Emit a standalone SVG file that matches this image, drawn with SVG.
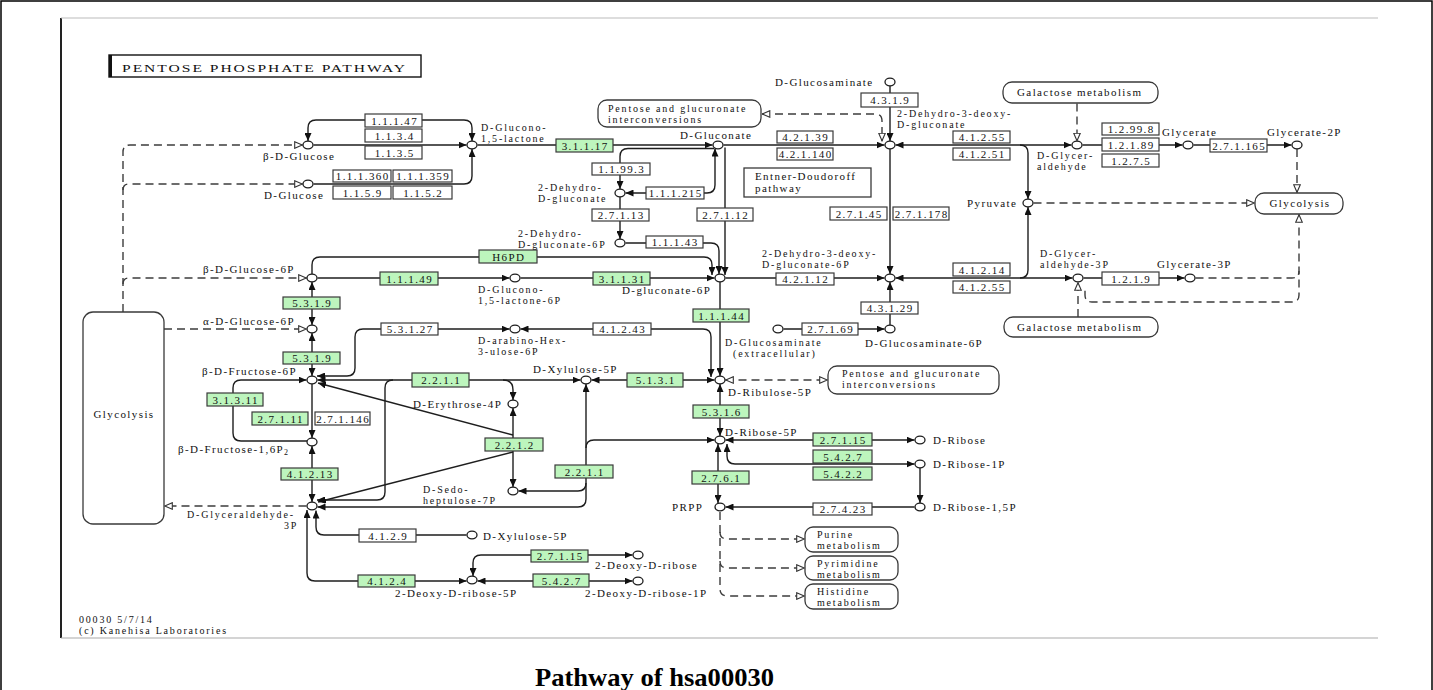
<svg xmlns="http://www.w3.org/2000/svg" width="1433" height="690" viewBox="0 0 1433 690">
<style>
.ln{fill:none;stroke:#1e1e1e;stroke-width:1.4}
.ds{fill:none;stroke:#3c3c3c;stroke-width:1.4;stroke-dasharray:8 5}
.cp{fill:#fff;stroke:#1e1e1e;stroke-width:1.3}
.ez{fill:#fff;stroke:#3a3a3a;stroke-width:1.2}
.gz{fill:#bdf5bd;stroke:#3a3a3a;stroke-width:1.2}
.mp{fill:#fff;stroke:#3a3a3a;stroke-width:1.3}
text{font-family:"Liberation Serif","Times New Roman",serif;font-size:11px;letter-spacing:1.4px;fill:#111}
.ml{font-size:10px;letter-spacing:1.8px}
.m{text-anchor:middle}
.cap{font-size:25px;font-weight:bold;letter-spacing:0;fill:#000}
</style>
<defs>
<marker id="fa" viewBox="0 0 8 7" refX="8" refY="3.5" markerWidth="8" markerHeight="7" markerUnits="userSpaceOnUse" orient="auto-start-reverse"><path d="M0,0 L8,3.5 L0,7 z" fill="#111"/></marker>
<marker id="oa" viewBox="0 0 9 8" refX="8.5" refY="4" markerWidth="9" markerHeight="8" markerUnits="userSpaceOnUse" orient="auto-start-reverse"><path d="M0.7,0.7 L8.3,4 L0.7,7.3 z" fill="#fff" stroke="#333" stroke-width="1.1"/></marker>
</defs>
<rect width="1433" height="690" fill="#fff"/>
<g id="frame" fill="none">
<path d="M1,690 V1 H1432 V690" stroke="#000" stroke-width="1.5"/>
<path d="M61,18 V638" stroke="#222" stroke-width="2"/>
<path d="M61,18 H1378" stroke="#bbb" stroke-width="1"/>
<path d="M61,638 H1378" stroke="#aaa" stroke-width="1.2"/>
</g>
<g id="title">
<rect x="109" y="55" width="312" height="22" fill="#fff" stroke="#111" stroke-width="1.4"/>
<path d="M110.5,55 V77" stroke="#111" stroke-width="3"/>
<text x="122" y="72" font-size="12" letter-spacing="1" textLength="285" lengthAdjust="spacingAndGlyphs">PENTOSE PHOSPHATE PATHWAY</text>
</g>
<g id="connectors">
<path class="ln" d="M308,141 V128 Q308,120 316,120 H464 Q472,120 472,128 V141" marker-start="url(#fa)" marker-end="url(#fa)"/>
<path class="ln" d="M313.5,145 H466.5" marker-end="url(#fa)"/>
<path class="ln" d="M313.5,184 H464 Q472,184 472,176 V149" marker-end="url(#fa)"/>
<path class="ln" d="M477.5,145 H712.5" marker-end="url(#fa)"/>
<path class="ln" d="M714,148.5 H628 Q620,148.5 620,156.5 V189" marker-end="url(#fa)"/>
<path class="ln" d="M625.5,193 H707 Q715,193 715,185 V148.5" marker-start="url(#fa)" marker-end="url(#fa)"/>
<path class="ln" d="M620,197 V239" marker-end="url(#fa)"/>
<path class="ln" d="M625.5,243 H711 Q719,243 719,251 V274" marker-end="url(#fa)"/>
<path class="ln" d="M725,147.5 V275" marker-end="url(#fa)"/>
<path class="ln" d="M312,274 V265 Q312,257 320,257 H704 Q712,257 712,265 V275" marker-end="url(#fa)"/>
<path class="ln" d="M317.5,278 H509.5" marker-end="url(#fa)"/>
<path class="ln" d="M520.5,278 H714.5" marker-end="url(#fa)"/>
<path class="ln" d="M720,282 V376" marker-end="url(#fa)"/>
<path class="ln" d="M520.5,329 H703 Q711,329 711,337 V377" marker-start="url(#fa)" marker-end="url(#fa)"/>
<path class="ln" d="M509.5,329 H363 Q355,329 355,337 V368 Q355,376 347,376 H317" marker-start="url(#fa)" marker-end="url(#fa)"/>
<path class="ln" d="M312,282 V325" marker-start="url(#fa)" marker-end="url(#fa)"/>
<path class="ln" d="M312,333 V376" marker-start="url(#fa)" marker-end="url(#fa)"/>
<path class="ln" d="M312,384 V438" marker-end="url(#fa)"/>
<path class="ln" d="M307,441 H241 Q233,441 233,433 V388 Q233,380 241,380 H306.5" marker-end="url(#fa)"/>
<path class="ln" d="M312,446 V502" marker-start="url(#fa)" marker-end="url(#fa)"/>
<path class="ln" d="M317.5,380 H580.5" marker-start="url(#fa)" marker-end="url(#fa)"/>
<path class="ln" d="M503,380 Q513,380 513,390 V400" marker-end="url(#fa)"/>
<path class="ln" d="M393,380 Q385,380 385,388 V492 Q385,500 377,500 H317" marker-end="url(#fa)"/>
<path class="ln" d="M513,435 L318,383" marker-end="url(#fa)"/>
<path class="ln" d="M513,452 L318,502" marker-end="url(#fa)"/>
<path class="ln" d="M513,408 V487" marker-start="url(#fa)" marker-end="url(#fa)"/>
<path class="ln" d="M591.5,380 H714.5" marker-start="url(#fa)" marker-end="url(#fa)"/>
<path class="ln" d="M317.5,507 H578 Q586,507 586,499 V384" marker-start="url(#fa)" marker-end="url(#fa)"/>
<path class="ln" d="M586,448 Q586,440 594,440 H714.5" marker-end="url(#fa)"/>
<path class="ln" d="M586,483 Q586,491 578,491 H518.5" marker-end="url(#fa)"/>
<path class="ln" d="M720,384 V436" marker-start="url(#fa)" marker-end="url(#fa)"/>
<path class="ln" d="M725.5,440 H914.5" marker-start="url(#fa)" marker-end="url(#fa)"/>
<path class="ln" d="M727,444 V456 Q727,464 735,464 H914.5" marker-start="url(#fa)" marker-end="url(#fa)"/>
<path class="ln" d="M718,444 V503" marker-start="url(#fa)" marker-end="url(#fa)"/>
<path class="ln" d="M920,468 V503" marker-end="url(#fa)"/>
<path class="ln" d="M914.5,507 H725.5" marker-end="url(#fa)"/>
<path class="ln" d="M466.5,535 H324 Q316,535 316,527 V510.5" marker-end="url(#fa)"/>
<path class="ln" d="M466.5,581 H315 Q307,581 307,573 V510" marker-start="url(#fa)" marker-end="url(#fa)"/>
<path class="ln" d="M632.5,555 H481 Q473,555 473,563 V576" marker-start="url(#fa)" marker-end="url(#fa)"/>
<path class="ln" d="M477.5,581 H632.5" marker-start="url(#fa)" marker-end="url(#fa)"/>
<path class="ln" d="M890,86 V141" marker-end="url(#fa)"/>
<path class="ln" d="M723.5,145 H884.5" marker-end="url(#fa)"/>
<path class="ln" d="M895.5,145 H1071.5" marker-start="url(#fa)" marker-end="url(#fa)"/>
<path class="ln" d="M1020,145 Q1028,145 1028,153 V199" marker-end="url(#fa)"/>
<path class="ln" d="M890,149 V274" marker-end="url(#fa)"/>
<path class="ln" d="M725.5,278 H884.5" marker-end="url(#fa)"/>
<path class="ln" d="M895.5,278 H1072.5" marker-start="url(#fa)" marker-end="url(#fa)"/>
<path class="ln" d="M1020,278 Q1028,278 1028,270 V207" marker-end="url(#fa)"/>
<path class="ln" d="M890,325 V282" marker-end="url(#fa)"/>
<path class="ln" d="M783.5,329 H884.5" marker-end="url(#fa)"/>
<path class="ln" d="M1082.5,145 H1182.5" marker-end="url(#fa)"/>
<path class="ln" d="M1193.5,145 H1291.5" marker-end="url(#fa)"/>
<path class="ln" d="M1083.5,278 H1184.5" marker-end="url(#fa)"/>
<path class="ds" d="M123,312 V152 Q123,145 130,145 H302.5" marker-end="url(#oa)"/>
<path class="ds" d="M123,190 Q123,184 129,184 H302.5" marker-end="url(#oa)"/>
<path class="ds" d="M123,284 Q123,278 129,278 H306.5" marker-end="url(#oa)"/>
<path class="ds" d="M164,329 H306.5" marker-end="url(#oa)"/>
<path class="ds" d="M306.5,506 H164.5" marker-end="url(#oa)"/>
<path class="ds" d="M762,114 H875 Q882,114 882,121 V141" marker-start="url(#oa)" marker-end="url(#oa)"/>
<path class="ds" d="M1077,103.5 V141" marker-end="url(#oa)"/>
<path class="ds" d="M1297,149 V192.5" marker-end="url(#oa)"/>
<path class="ds" d="M1033.5,203 H1254.5" marker-end="url(#oa)"/>
<path class="ds" d="M1078,317 V282.5" marker-end="url(#oa)"/>
<path class="ds" d="M1299,214.5 V295 Q1299,302 1292,302 H1092 Q1085,302 1085,295 V287" marker-start="url(#oa)"/>
<path class="ds" d="M1195.5,278 H1292 Q1299,278 1299,271"/>
<path class="ds" d="M725.5,380 H827.5" marker-start="url(#oa)" marker-end="url(#oa)"/>
<path class="ds" d="M720,512 V589 Q720,596 728,596 H804.5" marker-end="url(#oa)"/>
<path class="ds" d="M720,532 Q720,539 727,539 H804.5" marker-end="url(#oa)"/>
<path class="ds" d="M720,561 Q720,568 727,568 H804.5" marker-end="url(#oa)"/>
</g>
<g id="maps">
<g id="m_pentose1"><rect class="mp" x="598" y="100" width="163" height="27" rx="9"/><text class="ml" x="608" y="112">Pentose and glucuronate<tspan x="608" dy="11">interconversions</tspan></text></g>
<g id="m_galactose1"><rect class="mp" x="1003" y="82" width="155" height="21" rx="9"/><text x="1017" y="96">Galactose metabolism</text></g>
<g id="m_glycolysis1"><rect class="mp" x="1255" y="193" width="88" height="21" rx="9"/><text class="m" x="1300" y="207">Glycolysis</text></g>
<g id="m_galactose2"><rect class="mp" x="1004" y="317" width="154" height="20" rx="9"/><text x="1017" y="331">Galactose metabolism</text></g>
<g id="m_pentose2"><rect class="mp" x="828" y="366" width="171" height="28" rx="9"/><text class="ml" x="842" y="377">Pentose and glucuronate<tspan x="842" dy="11">interconversions</tspan></text></g>
<g id="m_glycolysis2"><rect class="mp" x="83" y="312" width="81" height="212" rx="10"/><text class="m" x="124" y="418">Glycolysis</text></g>
<g id="m_purine"><rect class="mp" x="805" y="527" width="93" height="25" rx="8"/><text class="ml" x="817" y="538">Purine<tspan x="817" dy="11">metabolism</tspan></text></g>
<g id="m_pyrimidine"><rect class="mp" x="805" y="556" width="93" height="24" rx="8"/><text class="ml" x="817" y="566.5">Pyrimidine<tspan x="817" dy="11">metabolism</tspan></text></g>
<g id="m_histidine"><rect class="mp" x="805" y="584" width="93" height="25" rx="8"/><text class="ml" x="817" y="595">Histidine<tspan x="817" dy="11">metabolism</tspan></text></g>
<g id="m_entner"><rect class="mp" x="744" y="168" width="127" height="29"/><text x="755" y="180">Entner-Doudoroff<tspan x="755" dy="12">pathway</tspan></text></g>
</g>
<g id="enzymes">
<g id="e1"><rect class="ez" x="365" y="114" width="57" height="13"/><text class="m" x="394.7" y="124.5">1.1.1.47</text></g>
<g id="e2"><rect class="ez" x="365" y="129" width="57" height="13"/><text class="m" x="394.7" y="139.5">1.1.3.4</text></g>
<g id="e3"><rect class="ez" x="365" y="146" width="57" height="13"/><text class="m" x="394.7" y="156.5">1.1.3.5</text></g>
<g id="e4"><rect class="ez" x="333" y="170" width="58" height="12"/><text class="m" x="362.7" y="179.5">1.1.1.360</text></g>
<g id="e5"><rect class="ez" x="393" y="170" width="59" height="12"/><text class="m" x="423.2" y="179.5">1.1.1.359</text></g>
<g id="e6"><rect class="ez" x="333" y="186" width="58" height="13"/><text class="m" x="362.7" y="196.5">1.1.5.9</text></g>
<g id="e7"><rect class="ez" x="393" y="186" width="59" height="13"/><text class="m" x="423.2" y="196.5">1.1.5.2</text></g>
<g id="e8"><rect class="gz" x="556" y="139" width="57" height="13"/><text class="m" x="585.2" y="149.5">3.1.1.17</text></g>
<g id="e9"><rect class="ez" x="592" y="163" width="58" height="12"/><text class="m" x="621.7" y="172.5">1.1.99.3</text></g>
<g id="e10"><rect class="ez" x="646" y="187" width="58" height="12"/><text class="m" x="675.7" y="196.5">1.1.1.215</text></g>
<g id="e11"><rect class="ez" x="592" y="209" width="57" height="12"/><text class="m" x="621.2" y="218.5">2.7.1.13</text></g>
<g id="e12"><rect class="ez" x="697" y="208" width="56" height="13"/><text class="m" x="725.7" y="218.5">2.7.1.12</text></g>
<g id="e13"><rect class="ez" x="646" y="236" width="57" height="12"/><text class="m" x="675.2" y="245.5">1.1.1.43</text></g>
<g id="e14"><rect class="gz" x="479" y="250" width="58" height="13"/><text class="m" x="508.7" y="260.5">H6PD</text></g>
<g id="e15"><rect class="ez" x="861" y="93" width="57" height="14"/><text class="m" x="890.2" y="104">4.3.1.9</text></g>
<g id="e16"><rect class="ez" x="777" y="131" width="56" height="12"/><text class="m" x="805.7" y="140.5">4.2.1.39</text></g>
<g id="e17"><rect class="ez" x="777" y="148" width="56" height="12"/><text class="m" x="805.7" y="157.5">4.2.1.140</text></g>
<g id="e18"><rect class="ez" x="953" y="131" width="57" height="12"/><text class="m" x="982.2" y="140.5">4.1.2.55</text></g>
<g id="e19"><rect class="ez" x="953" y="148" width="57" height="12"/><text class="m" x="982.2" y="157.5">4.1.2.51</text></g>
<g id="e20"><rect class="ez" x="830" y="207" width="57" height="13"/><text class="m" x="859.2" y="217.5">2.7.1.45</text></g>
<g id="e21"><rect class="ez" x="893" y="207" width="56" height="13"/><text class="m" x="921.7" y="217.5">2.7.1.178</text></g>
<g id="e22"><rect class="ez" x="1102" y="123" width="57" height="12"/><text class="m" x="1131.2" y="132.5">1.2.99.8</text></g>
<g id="e23"><rect class="ez" x="1102" y="138" width="57" height="13"/><text class="m" x="1131.2" y="148.5">1.2.1.89</text></g>
<g id="e24"><rect class="ez" x="1102" y="154" width="57" height="13"/><text class="m" x="1131.2" y="164.5">1.2.7.5</text></g>
<g id="e25"><rect class="ez" x="1210" y="139" width="57" height="13"/><text class="m" x="1239.2" y="149.5">2.7.1.165</text></g>
<g id="e26"><rect class="gz" x="380" y="272" width="58" height="13"/><text class="m" x="409.7" y="282.5">1.1.1.49</text></g>
<g id="e27"><rect class="gz" x="593" y="272" width="57" height="13"/><text class="m" x="622.2" y="282.5">3.1.1.31</text></g>
<g id="e28"><rect class="ez" x="776" y="273" width="58" height="12"/><text class="m" x="805.7" y="282.5">4.2.1.12</text></g>
<g id="e29"><rect class="ez" x="953" y="263" width="57" height="13"/><text class="m" x="982.2" y="273.5">4.1.2.14</text></g>
<g id="e30"><rect class="ez" x="953" y="281" width="57" height="12"/><text class="m" x="982.2" y="290.5">4.1.2.55</text></g>
<g id="e31"><rect class="ez" x="1102" y="272" width="57" height="13"/><text class="m" x="1131.2" y="282.5">1.2.1.9</text></g>
<g id="e32"><rect class="gz" x="283" y="297" width="57" height="12"/><text class="m" x="312.2" y="306.5">5.3.1.9</text></g>
<g id="e33"><rect class="gz" x="283" y="352" width="57" height="12"/><text class="m" x="312.2" y="361.5">5.3.1.9</text></g>
<g id="e34"><rect class="gz" x="693" y="309" width="56" height="13"/><text class="m" x="721.7" y="319.5">1.1.1.44</text></g>
<g id="e35"><rect class="ez" x="861" y="302" width="57" height="12"/><text class="m" x="890.2" y="311.5">4.3.1.29</text></g>
<g id="e36"><rect class="ez" x="802" y="323" width="56" height="12"/><text class="m" x="830.7" y="332.5">2.7.1.69</text></g>
<g id="e37"><rect class="ez" x="381" y="323" width="57" height="12"/><text class="m" x="410.2" y="332.5">5.3.1.27</text></g>
<g id="e38"><rect class="ez" x="593" y="323" width="58" height="12"/><text class="m" x="622.7" y="332.5">4.1.2.43</text></g>
<g id="e39"><rect class="gz" x="412" y="373" width="57" height="14"/><text class="m" x="441.2" y="384">2.2.1.1</text></g>
<g id="e40"><rect class="gz" x="627" y="373" width="56" height="14"/><text class="m" x="655.7" y="384">5.1.3.1</text></g>
<g id="e41"><rect class="gz" x="207" y="393" width="56" height="13"/><text class="m" x="235.7" y="403.5">3.1.3.11</text></g>
<g id="e42"><rect class="gz" x="252" y="412" width="56" height="13"/><text class="m" x="280.7" y="422.5">2.7.1.11</text></g>
<g id="e43"><rect class="ez" x="315" y="412" width="55" height="13"/><text class="m" x="343.2" y="422.5">2.7.1.146</text></g>
<g id="e44"><rect class="gz" x="693" y="405" width="56" height="13"/><text class="m" x="721.7" y="415.5">5.3.1.6</text></g>
<g id="e45"><rect class="gz" x="813" y="433" width="59" height="13"/><text class="m" x="843.2" y="443.5">2.7.1.15</text></g>
<g id="e46"><rect class="gz" x="813" y="450" width="59" height="13"/><text class="m" x="843.2" y="460.5">5.4.2.7</text></g>
<g id="e47"><rect class="gz" x="813" y="467" width="59" height="13"/><text class="m" x="843.2" y="477.5">5.4.2.2</text></g>
<g id="e48"><rect class="gz" x="485" y="438" width="58" height="13"/><text class="m" x="514.7" y="448.5">2.2.1.2</text></g>
<g id="e49"><rect class="gz" x="555" y="465" width="58" height="13"/><text class="m" x="584.7" y="475.5">2.2.1.1</text></g>
<g id="e50"><rect class="gz" x="281" y="468" width="57" height="12"/><text class="m" x="310.2" y="477.5">4.1.2.13</text></g>
<g id="e51"><rect class="gz" x="692" y="471" width="57" height="13"/><text class="m" x="721.2" y="481.5">2.7.6.1</text></g>
<g id="e52"><rect class="ez" x="813" y="503" width="59" height="12"/><text class="m" x="843.2" y="512.5">2.7.4.23</text></g>
<g id="e53"><rect class="ez" x="359" y="529" width="57" height="13"/><text class="m" x="388.2" y="539.5">4.1.2.9</text></g>
<g id="e54"><rect class="gz" x="531" y="550" width="57" height="12"/><text class="m" x="560.2" y="559.5">2.7.1.15</text></g>
<g id="e55"><rect class="gz" x="358" y="575" width="57" height="12"/><text class="m" x="387.2" y="584.5">4.1.2.4</text></g>
<g id="e56"><rect class="gz" x="533" y="574" width="56" height="13"/><text class="m" x="561.7" y="584.5">5.4.2.7</text></g>
</g>
<g id="compounds">
<g id="c_bglc"><ellipse class="cp" cx="308" cy="145" rx="5" ry="3.8"/><text x="263" y="160">β-D-Glucose</text></g>
<g id="c_glc"><ellipse class="cp" cx="308" cy="184" rx="5" ry="3.8"/><text x="264" y="199">D-Glucose</text></g>
<g id="c_gl"><ellipse class="cp" cx="472" cy="145" rx="5" ry="3.8"/><text class="ml" x="481" y="131">D-Glucono-<tspan x="481" dy="11">1,5-lactone</tspan></text></g>
<g id="c_gn"><ellipse class="cp" cx="718" cy="145" rx="5" ry="3.8"/><text x="680" y="139">D-Gluconate</text></g>
<g id="c_dhg"><ellipse class="cp" cx="620" cy="193" rx="5" ry="3.8"/><text class="ml" x="538" y="191">2-Dehydro-<tspan x="538" dy="11">D-gluconate</tspan></text></g>
<g id="c_dhg6p"><ellipse class="cp" cx="620" cy="243" rx="5" ry="3.8"/><text class="ml" x="518" y="237">2-Dehydro-<tspan x="518" dy="11">D-gluconate-6P</tspan></text></g>
<g id="c_kdg"><ellipse class="cp" cx="890" cy="145" rx="5" ry="3.8"/><text class="ml" x="897" y="117">2-Dehydro-3-deoxy-<tspan x="897" dy="11">D-gluconate</tspan></text></g>
<g id="c_glcn"><ellipse class="cp" cx="890" cy="82" rx="5" ry="3.8"/><text x="775" y="86">D-Glucosaminate</text></g>
<g id="c_ga"><ellipse class="cp" cx="1077" cy="145" rx="5" ry="3.8"/><text class="ml" x="1037" y="159">D-Glycer-<tspan x="1037" dy="11">aldehyde</tspan></text></g>
<g id="c_gly"><ellipse class="cp" cx="1188" cy="145" rx="5" ry="3.8"/><text x="1162" y="136">Glycerate</text></g>
<g id="c_g2p"><ellipse class="cp" cx="1297" cy="145" rx="5" ry="3.8"/><text x="1267" y="136">Glycerate-2P</text></g>
<g id="c_pyr"><ellipse class="cp" cx="1028" cy="203" rx="5" ry="3.8"/><text x="967" y="207">Pyruvate</text></g>
<g id="c_bg6p"><ellipse class="cp" cx="312" cy="278" rx="5" ry="3.8"/><text x="203" y="273">β-D-Glucose-6P</text></g>
<g id="c_gl6p"><ellipse class="cp" cx="515" cy="278" rx="5" ry="3.8"/><text class="ml" x="478" y="293">D-Glucono-<tspan x="478" dy="11">1,5-lactone-6P</tspan></text></g>
<g id="c_6pg"><ellipse class="cp" cx="720" cy="278" rx="5" ry="3.8"/><text x="622" y="294">D-gluconate-6P</text></g>
<g id="c_kdpg"><ellipse class="cp" cx="890" cy="278" rx="5" ry="3.8"/><text class="ml" x="762" y="257">2-Dehydro-3-deoxy-<tspan x="762" dy="11">D-gluconate-6P</tspan></text></g>
<g id="c_ga3p_r"><ellipse class="cp" cx="1078" cy="278" rx="5" ry="3.8"/><text class="ml" x="1040" y="257">D-Glycer-<tspan x="1040" dy="11">aldehyde-3P</tspan></text></g>
<g id="c_g3p"><ellipse class="cp" cx="1190" cy="278" rx="5" ry="3.8"/><text x="1157" y="268">Glycerate-3P</text></g>
<g id="c_glcnext"><ellipse class="cp" cx="778" cy="329" rx="5" ry="3.8"/><text class="ml" x="725" y="346">D-Glucosaminate<tspan x="733" dy="11">(extracellular)</tspan></text></g>
<g id="c_glcn6p"><ellipse class="cp" cx="890" cy="329" rx="5" ry="3.8"/><text x="865" y="347">D-Glucosaminate-6P</text></g>
<g id="c_ag6p"><ellipse class="cp" cx="312" cy="329" rx="5" ry="3.8"/><text x="203" y="325">α-D-Glucose-6P</text></g>
<g id="c_ara"><ellipse class="cp" cx="515" cy="329" rx="5" ry="3.8"/><text class="ml" x="478" y="344">D-arabino-Hex-<tspan x="478" dy="11">3-ulose-6P</tspan></text></g>
<g id="c_f6p"><ellipse class="cp" cx="312" cy="380" rx="5" ry="3.8"/><text x="202" y="375">β-D-Fructose-6P</text></g>
<g id="c_x5p"><ellipse class="cp" cx="586" cy="380" rx="5" ry="3.8"/><text x="533" y="373">D-Xylulose-5P</text></g>
<g id="c_ru5p"><ellipse class="cp" cx="720" cy="380" rx="5" ry="3.8"/><text x="728" y="396">D-Ribulose-5P</text></g>
<g id="c_e4p"><ellipse class="cp" cx="513" cy="404" rx="5" ry="3.8"/><text x="413" y="408">D-Erythrose-4P</text></g>
<g id="c_r5p"><ellipse class="cp" cx="720" cy="440" rx="5" ry="3.8"/><text x="725" y="436">D-Ribose-5P</text></g>
<g id="c_rib"><ellipse class="cp" cx="920" cy="440" rx="5" ry="3.8"/><text x="933" y="444">D-Ribose</text></g>
<g id="c_r1p"><ellipse class="cp" cx="920" cy="464" rx="5" ry="3.8"/><text x="933" y="468">D-Ribose-1P</text></g>
<g id="c_fbp"><ellipse class="cp" cx="312" cy="442" rx="5" ry="3.8"/><text x="178" y="453">β-D-Fructose-1,6P<tspan font-size="8" dy="1.5">2</tspan></text></g>
<g id="c_s7p"><ellipse class="cp" cx="513" cy="491" rx="5" ry="3.8"/><text class="ml" x="423" y="493">D-Sedo-<tspan x="423" dy="11">heptulose-7P</tspan></text></g>
<g id="c_gap"><ellipse class="cp" cx="312" cy="506" rx="5" ry="3.8"/><text class="ml" x="187" y="518">D-Glyceraldehyde-<tspan x="284" dy="11">3P</tspan></text></g>
<g id="c_prpp"><ellipse class="cp" cx="720" cy="507" rx="5" ry="3.8"/><text x="672" y="511">PRPP</text></g>
<g id="c_r15p"><ellipse class="cp" cx="920" cy="507" rx="5" ry="3.8"/><text x="933" y="511">D-Ribose-1,5P</text></g>
<g id="c_x5p2"><ellipse class="cp" cx="472" cy="535" rx="5" ry="3.8"/><text x="483" y="540">D-Xylulose-5P</text></g>
<g id="c_dr5p"><ellipse class="cp" cx="472" cy="580" rx="5" ry="3.8"/><text x="395" y="597">2-Deoxy-D-ribose-5P</text></g>
<g id="c_drib"><ellipse class="cp" cx="638" cy="555" rx="5" ry="3.8"/><text x="595" y="569">2-Deoxy-D-ribose</text></g>
<g id="c_dr1p"><ellipse class="cp" cx="638" cy="581" rx="5" ry="3.8"/><text x="585" y="597">2-Deoxy-D-ribose-1P</text></g>
</g>
<g id="footer">
<text class="ml" x="79" y="623">00030 5/7/14<tspan x="79" dy="11">(c) Kanehisa Laboratories</tspan></text>
</g>
<text class="cap" x="535" y="686" textLength="239" lengthAdjust="spacingAndGlyphs">Pathway of hsa00030</text>
</svg>
